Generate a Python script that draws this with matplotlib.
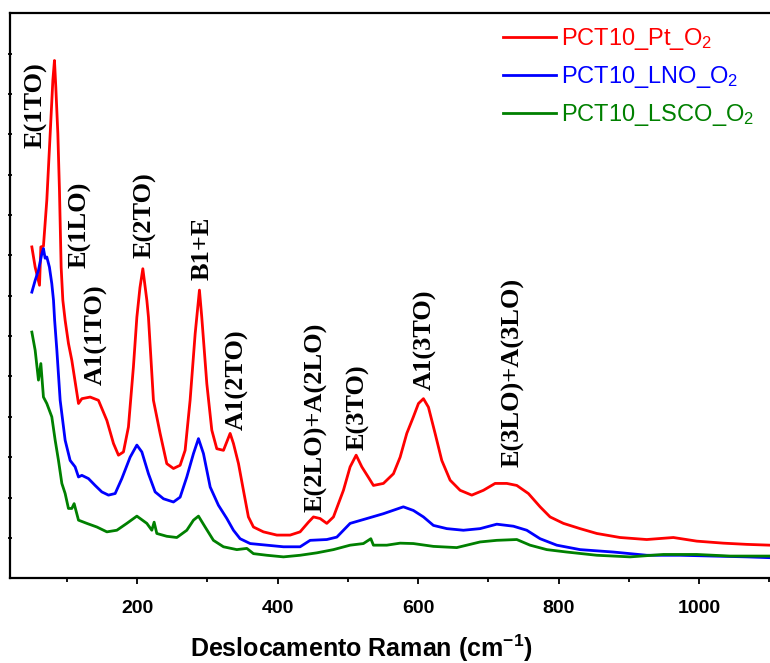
import matplotlib
matplotlib.use("Agg")
import matplotlib.pyplot as plt

plt.rcParams['mathtext.fontset'] = 'custom'
plt.rcParams['mathtext.rm'] = 'Liberation Sans'
plt.rcParams['mathtext.it'] = 'Liberation Sans:italic'
plt.rcParams['mathtext.bf'] = 'Liberation Sans:bold'

# espectros (intensidade em unidades arbitrarias)
pt_x = [50.1, 54.8, 61.0, 62.9, 66.6, 71.4, 76.2, 80.0, 82.3, 84.2, 87.1, 89.4, 91.8, 94.2,
        97.5, 102.2, 107.0, 116.5, 121.3, 133.1, 144.9, 156.9, 166.3, 173.4, 180.5, 187.6,
        194.7, 199.6, 204.0, 208.1, 213.8, 216.1, 223.2, 232.7, 242.2, 251.7, 261.2, 268.3,
        275.4, 282.6, 288.7, 292.0, 299.2, 306.3, 313.4, 322.9, 332.4, 337.1, 344.3, 351.3,
        358.4, 365.6, 379.8, 398.9, 417.8, 432.0, 443.9, 451.0, 460.5, 470.0, 479.5, 493.7,
        503.2, 511.8, 519.9, 529.3, 536.4, 550.6, 564.9, 574.4, 583.9, 593.3, 600.5, 607.6,
        614.7, 624.2, 633.7, 645.6, 659.8, 676.4, 693.0, 709.6, 726.3, 740.5, 757.0, 773.7,
        787.9, 806.9, 830.6, 854.4, 887.5, 925.5, 963.4, 996.7, 1034.6, 1067.9, 1101.0]
pt_y = [8.21, 7.71, 7.26, 8.21, 8.23, 9.37, 11.02, 12.34, 12.83, 12.17, 11.02, 9.61, 7.71, 6.89,
        6.39, 5.82, 5.40, 4.33, 4.45, 4.49, 4.41, 3.91, 3.34, 3.05, 3.13, 3.75,
        5.24, 6.47, 7.20, 7.67, 6.89, 6.47, 4.41, 3.59, 2.84, 2.72, 2.80, 3.17,
        4.41, 6.06, 7.14, 6.47, 4.82, 3.67, 3.21, 3.17, 3.59, 3.34, 2.84, 2.18,
        1.52, 1.27, 1.15, 1.07, 1.07, 1.15, 1.39, 1.52, 1.48, 1.36, 1.52, 2.18,
        2.76, 3.05, 2.76, 2.50, 2.30, 2.35, 2.59, 3.00, 3.59, 4.00, 4.33, 4.45,
        4.24, 3.59, 2.92, 2.43, 2.18, 2.06, 2.18, 2.35, 2.35, 2.30, 2.10, 1.77,
        1.52, 1.36, 1.23, 1.11, 1.01, 0.96, 1.01, 0.92, 0.87, 0.84, 0.82]

lno_x = [50.1, 54.8, 59.5, 64.3, 66.6, 69.0, 71.4, 75.1, 78.5, 80.9, 82.5, 85.7, 90.4, 97.5,
         104.6, 111.7, 116.5, 121.3, 130.7, 140.2, 149.7, 159.2, 168.7, 178.2, 190.0, 199.6,
         206.7, 216.1, 225.6, 237.5, 251.7, 261.2, 270.7, 280.2, 287.3, 294.4, 304.0, 315.7,
         327.7, 337.1, 346.6, 360.9, 384.6, 408.3, 432.0, 446.3, 470.0, 484.3, 503.2, 527.0,
         550.6, 579.0, 593.3, 607.6, 621.8, 640.9, 664.5, 688.3, 712.0, 735.7, 754.7, 773.7,
         797.4, 830.6, 878.0, 925.5, 973.0, 1020.0, 1068.0, 1101.0]
lno_y = [7.09, 7.38, 7.63, 8.04, 8.17, 7.93, 7.96, 7.71, 7.30, 6.89, 6.40, 5.65, 4.41, 3.42,
         2.92, 2.76, 2.51, 2.55, 2.47, 2.30, 2.14, 2.06, 2.10, 2.47, 3.00, 3.30,
         3.13, 2.59, 2.14, 1.97, 1.89, 2.01, 2.51, 3.09, 3.46, 3.09, 2.26, 1.81,
         1.48, 1.19, 0.98, 0.86, 0.82, 0.78, 0.78, 0.94, 0.96, 1.02, 1.36, 1.48,
         1.60, 1.77, 1.68, 1.52, 1.31, 1.23, 1.19, 1.23, 1.34, 1.29, 1.19, 0.98,
         0.82, 0.71, 0.65, 0.57, 0.57, 0.55, 0.53, 0.51]

lsco_x = [50.1, 54.8, 59.5, 62.9, 66.6, 71.4, 78.5, 83.3, 88.0, 92.8, 97.5, 102.2, 107.0, 110.3,
          116.5, 128.4, 142.7, 156.9, 171.1, 185.3, 199.6, 213.8, 220.9, 224.2, 228.0, 242.2,
          256.5, 270.7, 280.2, 287.3, 296.8, 308.6, 322.9, 341.9, 356.2, 365.6, 384.6, 408.3,
          432.0, 455.8, 479.5, 503.2, 522.1, 532.7, 536.4, 555.4, 574.4, 593.3, 621.8, 655.0,
          688.3, 712.0, 740.5, 759.4, 783.2, 811.6, 854.4, 901.8, 949.2, 996.7, 1044.1, 1101.0]
lsco_y = [6.10, 5.65, 4.91, 5.32, 4.49, 4.33, 4.00, 3.42, 2.92, 2.35, 2.10, 1.73, 1.73, 1.85,
          1.44, 1.36, 1.27, 1.15, 1.19, 1.36, 1.54, 1.36, 1.19, 1.39, 1.11, 1.04,
          1.01, 1.19, 1.44, 1.54, 1.27, 0.94, 0.78, 0.71, 0.74, 0.61, 0.57, 0.53,
          0.57, 0.63, 0.71, 0.82, 0.86, 0.98, 0.82, 0.82, 0.87, 0.86, 0.79, 0.76,
          0.90, 0.94, 0.96, 0.82, 0.71, 0.65, 0.57, 0.53, 0.59, 0.59, 0.55, 0.55]

# modos Raman: nome, posicao x, inicio do texto em y
modes = ['E(1TO)', 'E(1LO)', 'A1(1TO)', 'E(2TO)', 'B1+E', 'A1(2TO)',
         'E(2LO)+A(2LO)', 'E(3TO)', 'A1(3TO)', 'E(3LO)+A(3LO)']
mode_x = [56.2, 118.9, 141.6, 211.4, 293.2, 341.9, 454.5, 515.0, 609.5, 734.5]
mode_y = [10.65, 7.68, 4.78, 7.93, 7.38, 3.67, 1.64, 3.17, 4.66, 2.76]

fig = plt.figure(figsize=(7.7, 6.63), dpi=100)
ax = fig.add_axes([0.013, 0.1278, 0.987, 0.8522])

ax.plot(pt_x, pt_y, color='#ff0000', lw=2.0, label='PCT10_Pt_O$_2$')
ax.plot(lno_x, lno_y, color='#0000ff', lw=2.0, label='PCT10_LNO_O$_2$')
ax.plot(lsco_x, lsco_y, color='#008000', lw=2.0, label='PCT10_LSCO_O$_2$')

for name, mx, my in zip(modes, mode_x, mode_y):
    ax.text(mx, my, name, rotation=90, ha='center', va='bottom',
            family='Liberation Serif', fontweight='bold', fontsize=19)

ax.set_xlim(19, 1101)
ax.set_ylim(0, 14)
ax.set_xticks([200, 400, 600, 800, 1000])
ax.set_xticks([100, 300, 500, 700, 900, 1100], minor=True)
ax.set_yticks(range(1, 14))
ax.set_yticklabels([])
ax.tick_params(axis='x', which='major', direction='out', length=4, width=1.3, pad=12)
ax.tick_params(axis='x', which='minor', direction='out', length=3, width=1.3)
ax.tick_params(axis='y', direction='inout', length=3, width=1.3)
for lbl in ax.get_xticklabels():
    lbl.set_family('Liberation Sans')
    lbl.set_fontweight('bold')
    lbl.set_fontsize(14)

for side in ['left', 'bottom', 'top']:
    ax.spines[side].set_linewidth(1.6)
ax.spines['right'].set_visible(False)

ax.set_xlabel('Deslocamento Raman (cm$^{\\mathbf{-1}}$)', family='Liberation Sans',
              fontweight='bold', fontsize=18)
ax.xaxis.set_label_coords(0.4625, -0.097)

leg = ax.legend(loc='upper left', bbox_to_anchor=(0.653, 0.961),
                bbox_transform=fig.transFigure, frameon=False,
                prop={'family': 'Liberation Sans', 'size': 17},
                handlelength=2.25, handletextpad=0.2, labelspacing=0.52,
                borderpad=0, borderaxespad=0)
for txt, line in zip(leg.get_texts(), leg.get_lines()):
    txt.set_color(line.get_color())

fig.savefig('out.png', dpi=100)
